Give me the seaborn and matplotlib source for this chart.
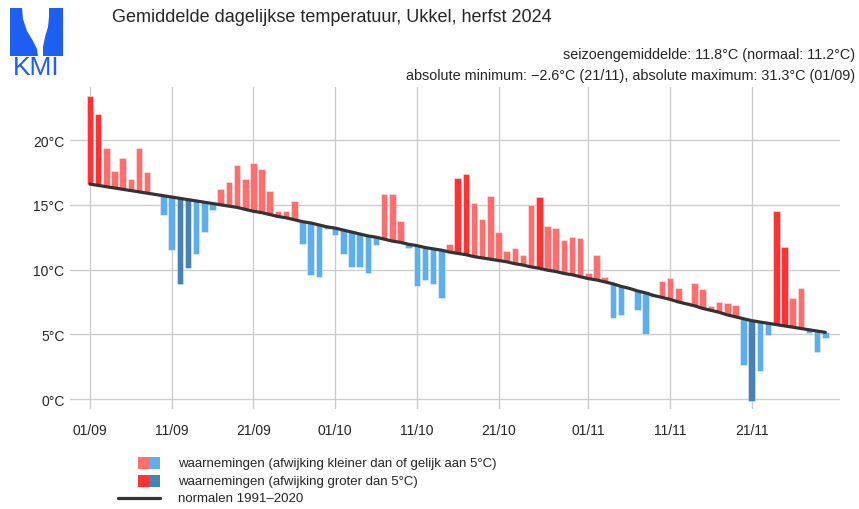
import pandas as pd
import numpy as np
import matplotlib
matplotlib.use("Agg")
import matplotlib.pyplot as plt
import seaborn as sns
from matplotlib.patches import Rectangle, Polygon
from matplotlib.lines import Line2D

# daily mean temperature Ukkel, 1 Sep - 30 Nov 2024
observed = [
    23.4, 22.0, 19.4, 17.6, 18.6, 17.0, 19.4, 17.5, 15.75, 14.2,
    11.5, 8.9, 10.1, 11.2, 12.9, 14.6, 16.2, 16.75, 18.1, 17.0,
    18.2, 17.8, 16.05, 14.5, 14.5, 15.3, 12.0, 9.6, 9.4, 13.1,
    12.7, 11.2, 10.2, 10.2, 9.75, 11.9, 15.85, 15.8, 13.75, 11.65,
    8.7, 9.2, 8.9, 7.8, 12.0, 17.1, 17.4, 15.15, 13.9, 15.7,
    12.9, 11.4, 11.7, 11.1, 15.0, 15.6, 13.4, 13.2, 12.3, 12.5,
    12.45, 9.75, 11.1, 9.4, 6.25, 6.5, 8.5, 6.9, 5.05, 7.85,
    9.15, 9.35, 8.6, 7.5, 9.0, 8.5, 7.2, 7.5, 7.4, 7.3,
    2.65, -0.15, 2.2, 4.95, 14.5, 11.75, 7.8, 8.6, 5.1, 3.65, 4.75,
]

# normals 1991-2020
normal = [
    16.6, 16.5, 16.4, 16.3, 16.2, 16.1, 16.0, 15.9, 15.8, 15.7,
    15.6, 15.5, 15.4, 15.3, 15.2, 15.1, 15.0, 14.9, 14.8, 14.65,
    14.5, 14.4, 14.25, 14.1, 14.0, 13.85, 13.7, 13.6, 13.45, 13.3,
    13.2, 13.05, 12.9, 12.75, 12.6, 12.5, 12.35, 12.2, 12.1, 11.95,
    11.85, 11.7, 11.6, 11.5, 11.35, 11.25, 11.15, 11.0, 10.9, 10.8,
    10.7, 10.6, 10.45, 10.35, 10.2, 10.1, 9.95, 9.85, 9.7, 9.6,
    9.45, 9.3, 9.2, 9.05, 8.9, 8.7, 8.55, 8.35, 8.2, 8.0,
    7.85, 7.7, 7.5, 7.35, 7.2, 7.0, 6.85, 6.7, 6.5, 6.35,
    6.2, 6.05, 5.95, 5.85, 5.75, 5.65, 5.55, 5.45, 5.35, 5.25, 5.15,
]

y_ticks = [0, 5, 10, 15, 20]
y_tick_labels = ["0°C", "5°C", "10°C", "15°C", "20°C"]

title = "Gemiddelde dagelijkse temperatuur, Ukkel, herfst 2024"
info_1 = "seizoengemiddelde: 11.8°C (normaal: 11.2°C)"
info_2 = "absolute minimum: \u22122.6°C (21/11), absolute maximum: 31.3°C (01/09)"
legend_labels = [
    "waarnemingen (afwijking kleiner dan of gelijk aan 5°C)",
    "waarnemingen (afwijking groter dan 5°C)",
    "normalen 1991\u20132020",
]

LIGHT_RED, DARK_RED = "#FF6E6E", "#FF3333"
LIGHT_BLUE, DARK_BLUE = "#5DAEEC", "#4682B4"


def build_frame():
    dates = pd.date_range("2024-09-01", "2024-11-30", freq="D")
    df = pd.DataFrame({"date": dates, "obs": observed, "normal": normal})
    df["day"] = np.arange(len(df))
    df["dev"] = df["obs"] - df["normal"]

    def pick(d):
        if d >= 0:
            return DARK_RED if d > 5 else LIGHT_RED
        return DARK_BLUE if d < -5 else LIGHT_BLUE

    df["color"] = df["dev"].apply(pick)
    return df


def plot(df):
    sns.set_style("white")
    plt.rcParams["font.family"] = ["Liberation Sans", "DejaVu Sans"]

    W, H = 859, 510
    fig = plt.figure(figsize=(W / 100, H / 100), dpi=100)
    ax = fig.add_axes([70 / W, 1 - 410 / H, 770 / W, 322 / H])

    ax.bar(df["day"], df["dev"], bottom=df["normal"], width=0.8,
           color=df["color"], edgecolor=(1, 1, 1, 0.45), linewidth=0.6, zorder=2)
    sns.lineplot(x=df["day"], y=df["normal"], ax=ax, color="#333333",
                 linewidth=2.3, zorder=3)

    ax.set_xlim(-2.45, 91.8)
    ax.set_ylim(-0.77, 24.1)

    ticks = df["day"][df["date"].dt.day.isin([1, 11, 21])]
    ax.set_xticks(ticks)
    ax.set_xticklabels(df.loc[ticks.index, "date"].dt.strftime("%d/%m"), fontsize=10)
    ax.set_yticks(y_ticks)
    ax.set_yticklabels(y_tick_labels, fontsize=10)
    ax.set_xlabel("")
    ax.set_ylabel("")

    ax.grid(True, color="#CCCCCC", linewidth=1.0, zorder=0)
    ax.set_axisbelow(True)
    for s in ax.spines.values():
        s.set_visible(False)
    ax.tick_params(axis="x", length=4, width=1, color="#333333", pad=6)
    ax.tick_params(axis="y", length=0, pad=4)

    # titles
    fig.text(112 / W, 1 - 18 / H, title, fontsize=13, va="center", ha="left")
    fig.text(855 / W, 1 - 55 / H, info_1, fontsize=10.4, va="center", ha="right")
    fig.text(855 / W, 1 - 76 / H, info_2, fontsize=10.4, va="center", ha="right")

    # KMI logo
    blue = "#1F5EF2"
    fx = lambda x: x / W
    fy = lambda y: 1 - y / H
    left = [(10, 9), (22, 9), (23, 20), (27, 32), (33, 42), (37, 50), (38, 57), (10, 57)]
    right = [(49, 9), (63, 9), (63, 57), (43, 57), (43, 48), (45, 38), (48, 28), (49, 18)]
    for pts in (left, right):
        fig.add_artist(Polygon([(fx(x), fy(y)) for x, y in pts], closed=True,
                               facecolor=blue, edgecolor="none",
                               transform=fig.transFigure))
    fig.text(fx(36), fy(68), "KMI", fontsize=19, color=blue, ha="center",
             va="center")

    # legend
    rows = [(464, LIGHT_RED, LIGHT_BLUE), (482, DARK_RED, DARK_BLUE)]
    for y, c1, c2 in rows:
        for x0, c in ((138, c1), (149, c2)):
            fig.add_artist(Rectangle((fx(x0), fy(y + 6)), 11 / W, 12 / H,
                                     facecolor=c, edgecolor="none",
                                     transform=fig.transFigure))
    fig.add_artist(Line2D([fx(118), fx(160)], [fy(499), fy(499)], color="#333333",
                          linewidth=2.3, transform=fig.transFigure))
    for y, lab in zip((464, 482, 499), legend_labels):
        fig.text(fx(178), fy(y), lab, fontsize=9.55, va="center", ha="left")

    fig.savefig("out.png", dpi=100)


def main():
    df = build_frame()
    plot(df)


if __name__ == "__main__":
    main()
